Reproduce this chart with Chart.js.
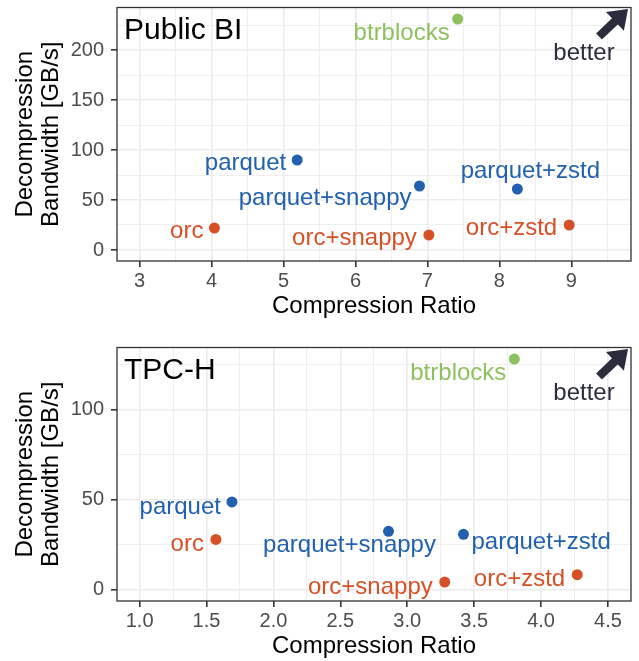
<!DOCTYPE html>
<html>
<head>
<meta charset="utf-8">
<script src="https://cdn.jsdelivr.net/npm/chart.js@4.4.1/dist/chart.umd.min.js"></script>
<style>
  html, body { margin: 0; padding: 0; background: #fff; }
  #wrap { position: relative; width: 639px; height: 661px; }
  canvas { position: absolute; left: 0; }
  #publicBi { top: 0; }
  #tpch { top: 340px; }
</style>
</head>
<body>
<div id="wrap">
  <canvas id="publicBi" width="639" height="320"></canvas>
  <canvas id="tpch" width="639" height="320"></canvas>
</div>
<script>
// Data
const systems = ['btrblocks', 'parquet', 'parquet+snappy', 'parquet+zstd', 'orc', 'orc+snappy', 'orc+zstd'];
const families = ['btrblocks', 'parquet', 'parquet', 'parquet', 'orc', 'orc', 'orc'];

const publicBiRatio = [7.42, 5.19, 6.89, 8.25, 4.04, 7.02, 8.97];
const publicBiBandwidth = [231, 90, 64, 61, 22, 15, 25];

const tpchRatio = [3.80, 1.69, 2.86, 3.42, 1.57, 3.28, 4.27];
const tpchBandwidth = [128, 48.7, 32.4, 30.7, 27.9, 4.2, 8.3];

const familyColors = { btrblocks: '#8dc15e', parquet: '#2161ae', orc: '#d65026' };

// label placement relative to point: [dx, dy, align]
const publicBiLabelPos = [
  [-8, 14, 'right'], [-11, 3, 'right'], [-8, 12, 'right'], [13, -18, 'center'],
  [-11, 3, 'right'], [-12, 3, 'right'], [-12, 3, 'right']
];
const tpchLabelPos = [
  [-8, 14, 'right'], [-11, 5, 'right'], [-39, 14, 'center'], [8, 8, 'left'],
  [-12, 5, 'right'], [-12, 5, 'right'], [-12, 5, 'right']
];

const FONT = '"Liberation Sans", Arial, Helvetica, sans-serif';

function isMajor(v, step) {
  return Math.abs(v / step - Math.round(v / step)) < 1e-6;
}

// border, point labels, panel title, "better" arrow
const panelDecor = {
  id: 'panelDecor',
  afterDatasetsDraw(chart, args, opts) {
    const { ctx, chartArea: a, scales: { x, y } } = chart;
    const ds = chart.data.datasets[0];
    ctx.save();

    ds.data.forEach((p, i) => {
      const lp = opts.labelPos[i];
      ctx.font = '24px ' + FONT;
      ctx.fillStyle = ds.pointBackgroundColor[i];
      ctx.textAlign = lp[2];
      ctx.textBaseline = 'middle';
      ctx.fillText(systems[i], x.getPixelForValue(p.x) + lp[0], y.getPixelForValue(p.y) + lp[1]);
    });

    ctx.font = '30px ' + FONT;
    ctx.fillStyle = '#000';
    ctx.textAlign = 'left';
    ctx.textBaseline = 'middle';
    ctx.fillText(opts.title, a.left + 7, a.top + 23);

    ctx.font = '24px ' + FONT;
    ctx.fillStyle = '#2b2d3d';
    ctx.textAlign = 'center';
    ctx.fillText('better', a.right - 47, a.top + 46);

    // arrow
    const tx = a.right - 3, ty = a.top + 1.5;
    const sx = a.right - 32, sy = a.top + 29;
    const ang = Math.atan2(ty - sy, tx - sx);
    const hl = 18, hw = 13;
    const bx = tx - hl * Math.cos(ang), by = ty - hl * Math.sin(ang);
    ctx.strokeStyle = '#2b2d3d';
    ctx.lineWidth = 8.5;
    ctx.beginPath();
    ctx.moveTo(sx, sy);
    ctx.lineTo(bx + Math.cos(ang), by + Math.sin(ang));
    ctx.stroke();
    ctx.fillStyle = '#2b2d3d';
    ctx.beginPath();
    ctx.moveTo(tx, ty);
    ctx.lineTo(bx + hw * Math.sin(ang), by - hw * Math.cos(ang));
    ctx.lineTo(bx - hw * Math.sin(ang), by + hw * Math.cos(ang));
    ctx.closePath();
    ctx.fill();

    ctx.strokeStyle = '#333';
    ctx.lineWidth = 1.3;
    ctx.strokeRect(a.left, a.top, a.right - a.left, a.bottom - a.top);
    ctx.restore();
  }
};

function makePanel(id, title, ratio, bandwidth, labelPos, xr, yr) {
  const pts = ratio.map((r, i) => ({ x: r, y: bandwidth[i] }));
  const colors = families.map(f => familyColors[f]);
  const gridOpts = step => ({
    color: '#ebebeb',
    lineWidth: c => isMajor(c.tick.value, step) ? 1.6 : 0.8,
    drawTicks: true,
    tickLength: 6,
    tickWidth: 1.6,
    tickColor: c => isMajor(c.tick.value, step) ? '#333' : 'rgba(0,0,0,0)'
  });
  return new Chart(document.getElementById(id), {
    type: 'scatter',
    data: {
      datasets: [{
        data: pts,
        pointBackgroundColor: colors,
        pointBorderWidth: 0,
        pointRadius: 5.5,
        pointHoverRadius: 5.5
      }]
    },
    options: {
      responsive: false,
      animation: false,
      layout: { padding: { top: 7.5, right: 8, bottom: 0, left: 0 } },
      plugins: {
        legend: { display: false },
        tooltip: { enabled: false },
        panelDecor: { title: title, labelPos: labelPos }
      },
      scales: {
        x: {
          type: 'linear',
          min: xr.min, max: xr.max,
          afterFit: s => { s.height = 59; s.paddingLeft = 0; s.paddingRight = 0; },
          border: { display: false },
          grid: gridOpts(xr.major),
          ticks: {
            stepSize: xr.minor,
            includeBounds: false,
            autoSkip: false,
            maxRotation: 0, minRotation: 0,
            padding: 2,
            color: '#4d4d4d',
            font: { family: FONT, size: 20 },
            callback: v => isMajor(v, xr.major) ? v.toFixed(xr.digits) : ''
          },
          title: {
            display: true,
            text: 'Compression Ratio',
            color: '#000',
            padding: { top: 0, bottom: 0 },
            font: { family: FONT, size: 24, lineHeight: 1.12 }
          }
        },
        y: {
          type: 'linear',
          min: yr.min, max: yr.max,
          afterFit: s => { s.width = 117; s.paddingTop = 0; s.paddingBottom = 0; },
          border: { display: false },
          grid: gridOpts(50),
          ticks: {
            stepSize: 25,
            includeBounds: false,
            autoSkip: false,
            padding: 7,
            color: '#4d4d4d',
            font: { family: FONT, size: 20 },
            callback: v => isMajor(v, 50) ? String(v) : ''
          },
          title: {
            display: true,
            text: ['Decompression', 'Bandwidth [GB/s]'],
            color: '#000',
            padding: { top: 11.5, bottom: 0 },
            font: { family: FONT, size: 24, lineHeight: 1.12 }
          }
        }
      }
    },
    plugins: [panelDecor]
  });
}

makePanel('publicBi', 'Public BI', publicBiRatio, publicBiBandwidth, publicBiLabelPos,
  { min: 2.686, max: 9.829, major: 1, minor: 0.5, digits: 0 },
  { min: -11, max: 242.5 });
makePanel('tpch', 'TPC-H', tpchRatio, tpchBandwidth, tpchLabelPos,
  { min: 0.831, max: 4.672, major: 0.5, minor: 0.25, digits: 1 },
  { min: -6.3, max: 134.4 });
</script>
</body>
</html>
